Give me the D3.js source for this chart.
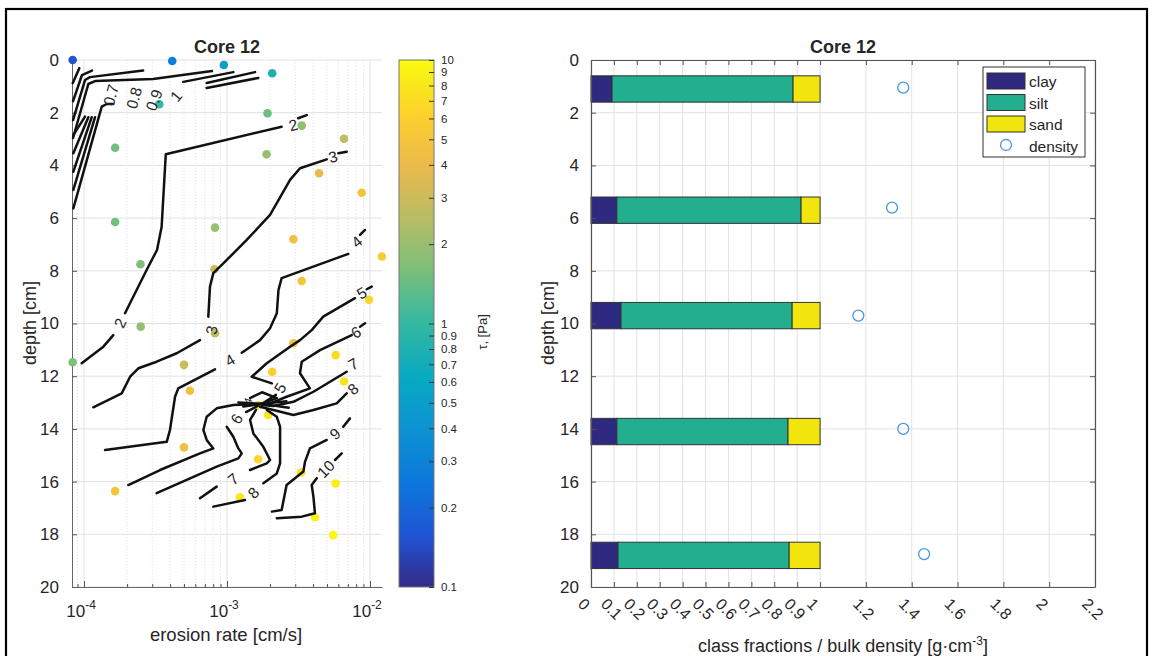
<!DOCTYPE html>
<html>
<head>
<meta charset="utf-8">
<script src="https://cdn.jsdelivr.net/npm/d3@7"></script>
<style>
  body { margin: 0; background: #fff; }
  svg { display: block; }
  text { font-family: "Liberation Sans", Arial, Helvetica, sans-serif; fill: #262626; }
</style>
</head>
<body>
<svg id="chart" width="1154" height="656"></svg>
<script>
// ---------- Left panel: erosion measurements ----------
const pointRate  = [8.33e-5, 4.14e-4, 9.5e-4, 2.07e-3, 3.36e-4, 1.92e-3, 3.33e-3, 6.58e-3, 1.65e-4, 1.89e-3,
                    4.4e-3, 8.75e-3, 1.65e-4, 8.24e-4, 2.91e-3, 1.21e-2, 2.48e-4, 8.17e-4, 3.33e-3, 9.84e-3,
                    2.49e-4, 8.24e-4, 8.33e-5, 5.0e-4, 2.91e-3, 5.75e-3, 2.07e-3, 6.58e-3, 5.5e-4, 1.65e-3,
                    1.94e-3, 5.0e-4, 1.65e-3, 3.3e-3, 5.75e-3, 1.65e-4, 1.23e-3, 4.12e-3, 5.53e-3];
const pointDepth = [0.0, 0.04, 0.19, 0.5, 1.68, 2.02, 2.49, 2.99, 3.33, 3.58,
                    4.3, 5.04, 6.15, 6.36, 6.8, 7.46, 7.75, 7.94, 8.39, 9.1,
                    10.12, 10.37, 11.47, 11.57, 10.75, 11.2, 11.83, 12.2, 12.55, 13.1,
                    13.47, 14.7, 15.15, 15.65, 16.07, 16.36, 16.6, 17.35, 18.03];
const pointTau   = [0.16, 0.28, 0.5, 0.8, 1.0, 1.45, 1.9, 2.7, 1.5, 2.0,
                    4.0, 5.0, 1.5, 2.0, 4.5, 5.5, 1.7, 3.0, 5.0, 6.5,
                    1.9, 2.7, 1.6, 3.0, 4.5, 7.0, 6.0, 7.5, 4.5, 8.0,
                    8.0, 4.5, 6.5, 7.5, 8.5, 5.0, 8.0, 9.0, 9.5];

// Iso-lines of critical shear stress, vertices as [erosion rate, depth]
const contourLines = [
  [[8.33e-5,0.88],[9.27e-5,0.31]],
  [[8.38e-5,1.56],[9.68e-5,0.57],[1.137e-4,0.40]],
  [[8.38e-5,2.28],[1.016e-4,0.76],[1.101e-4,0.65],[2.59e-4,0.40]],
  [[8.38e-5,2.96],[1.072e-4,0.91],[1.194e-4,0.80],[3.04e-4,0.72],[7.85e-4,0.42]],
  [[4.94e-4,0.83],[1.107e-3,0.46]],
  [[7.21e-4,0.87],[1.570e-3,0.46]],
  [[7.21e-4,1.06],[1.656e-3,0.68]],
  [[8.42e-5,2.85],[1.016e-4,2.15]],
  [[8.42e-5,3.54],[1.072e-4,2.17]],
  [[8.42e-5,4.24],[1.132e-4,2.17]],
  [[8.42e-5,4.93],[1.194e-4,2.17]],
  [[8.42e-5,5.63],[1.330e-4,1.77],[1.442e-4,1.67],[1.6e-4,1.67]],
  // 2
  [[3.61e-3,2.09],[3.15e-3,2.21]],
  [[2.41e-3,2.53],[3.73e-4,3.58],[3.49e-4,6.33],[3.24e-4,7.21],[2.74e-4,7.97],[1.935e-4,9.61]],
  [[1.603e-4,10.44],[1.365e-4,10.88],[9.63e-5,11.51]],
  // 3
  [[6.87e-3,3.48],[6.00e-3,3.54]],
  [[4.98e-3,3.77],[3.24e-3,4.11],[2.76e-3,4.55],[2.00e-3,5.88],[1.374e-3,6.83],[9.42e-4,7.72],[8.02e-4,8.09],[7.60e-4,8.60],[7.40e-4,9.74]],
  [[6.47e-4,10.63],[4.45e-4,11.13],[3.22e-4,11.45],[2.40e-4,11.70],[2.10e-4,12.02],[1.835e-4,12.65],[1.161e-4,13.18]],
  // 4
  [[9.23e-3,6.45],[8.51e-3,6.64]],
  [[7.05e-3,7.36],[2.41e-3,8.28],[2.29e-3,8.73],[2.23e-3,9.61],[2.00e-3,10.18],[1.702e-3,10.63],[1.268e-3,11.11]],
  [[8.24e-4,11.74],[4.56e-4,12.46],[4.33e-4,12.78],[3.99e-4,14.04],[3.79e-4,14.49],[1.403e-4,14.80]],
  // 5
  [[1.028e-2,8.60],[9.48e-3,8.70]],
  [[7.85e-3,9.04],[4.71e-3,9.74],[3.91e-3,10.25],[3.24e-3,10.63],[2.76e-3,10.88],[1.897e-3,11.51],[1.489e-3,12.02],[2.06e-3,12.27]],
  [[2.20e-3,12.71],[1.758e-3,13.05]],
  [[1.758e-3,13.05],[1.107e-3,13.09],[8.47e-4,13.22],[7.21e-4,13.54],[6.83e-4,14.04],[7.21e-4,14.42],[8.02e-4,14.74],[6.47e-4,14.93],[3.40e-4,15.56],[2.04e-4,16.13]],
  // 6
  [[9.23e-3,9.99],[8.51e-3,10.12]],
  [[7.45e-3,10.44],[4.47e-3,11.01],[3.33e-3,11.45],[3.24e-3,11.89],[3.80e-3,12.46],[2.61e-3,12.78],[1.897e-3,13.09]],
  [[1.65e-3,13.12],[1.358e-3,13.36]],
  [[9.95e-4,13.92],[1.107e-3,14.30],[1.200e-3,14.74],[1.268e-3,14.93],[1.200e-3,15.12],[8.47e-4,15.43],[3.22e-4,16.44]],
  // 7
  [[6.87e-3,11.83],[4.02e-3,12.59],[2.91e-3,12.97],[2.11e-3,13.13],[1.758e-3,13.09]],
  [[1.595e-3,13.28],[1.449e-3,13.66],[1.528e-3,14.17],[1.795e-3,14.68],[2.00e-3,15.18],[1.897e-3,15.31],[1.449e-3,15.56]],
  [[8.47e-4,16.19],[6.47e-4,16.63]],
  // 8
  [[6.87e-3,12.65],[5.85e-3,13.03],[4.02e-3,13.28],[2.91e-3,13.47],[2.11e-3,13.28],[1.702e-3,13.16]],
  [[1.897e-3,13.28],[2.23e-3,13.54],[2.35e-3,13.92],[2.35e-3,14.55],[2.35e-3,15.31],[2.23e-3,15.69],[1.795e-3,16.06]],
  [[1.336e-3,16.70],[8.02e-4,16.95]],
  // 9
  [[7.24e-3,13.60],[6.50e-3,13.92]],
  [[4.98e-3,14.42],[3.80e-3,14.74],[3.51e-3,15.25],[3.42e-3,15.62],[2.61e-3,16.13],[2.41e-3,17.08],[2.06e-3,17.14]],
  // 10
  [[6.34e-3,14.93],[5.69e-3,15.18]],
  [[4.24e-3,15.87],[3.91e-3,16.13],[4.02e-3,16.57],[4.12e-3,17.20],[3.33e-3,17.33],[2.23e-3,17.39]],
  // knot of lines around 13 cm
  [[1.449e-3,12.83],[1.758e-3,12.61],[2.23e-3,12.83],[1.758e-3,13.05]],
  [[1.20e-3,13.0],[1.758e-3,13.05],[2.6e-3,12.95]],
  [[1.30e-3,13.15],[1.758e-3,13.05],[2.7e-3,13.2]]
];

const contourText  = ["0.7","0.8","0.9","1","2","2","3","3","4","4","4","5","5","6","6","7","7","8","8","9","10"];
const contourRate  = [1.545e-4,2.24e-4,3.09e-4,4.40e-4,2.90e-3,1.79e-4,5.51e-3,7.82e-4,8.07e-3,1.050e-3,1.403e-3,8.75e-3,2.35e-3,7.98e-3,1.169e-3,7.64e-3,1.107e-3,7.60e-3,1.528e-3,5.69e-3,4.92e-3];
const contourDepth = [1.33,1.44,1.52,1.37,2.47,9.98,3.68,10.25,6.90,11.39,12.94,8.85,12.45,10.34,13.62,11.54,15.90,12.49,16.43,14.19,15.52];
const contourAngle = [-75,-75,-70,-50,-15,-65,-15,-80,-40,-30,-70,-30,-60,-30,-60,-30,-40,-40,-45,-40,-45];

const depthTicks = [0,2,4,6,8,10,12,14,16,18,20];
const rateMajorTicks = [1e-4,1e-3,1e-2];
const rateTickExp = ["-4","-3","-2"];
const tauTicks = [0.1,0.2,0.3,0.4,0.5,0.6,0.7,0.8,0.9,1,2,3,4,5,6,7,8,9,10];

// ---------- Right panel: grain size classes and bulk density ----------
const sampleDepth = [1.1, 5.7, 9.7, 14.1, 18.8];
const clayFrac = [0.092, 0.113, 0.131, 0.113, 0.118];
const siltFrac = [0.790, 0.804, 0.747, 0.747, 0.747];
const sandFrac = [0.118, 0.083, 0.122, 0.140, 0.135];
const densityDepth = [1.05, 5.6, 9.7, 14.0, 18.75];
const bulkDensity = [1.363, 1.314, 1.167, 1.363, 1.454];
const fracTicks = [0,0.1,0.2,0.3,0.4,0.5,0.6,0.7,0.8,0.9,1,1.2,1.4,1.6,1.8,2,2.2];
const fracTickLabels = ["0","0.1","0.2","0.3","0.4","0.5","0.6","0.7","0.8","0.9","1","1.2","1.4","1.6","1.8","2","2.2"];
const classNames = ["clay","silt","sand"];

// ---------- drawing ----------
const svg = d3.select("#chart");
const SLAB = 1.0;        // sample slab thickness, cm
const GRID = "#e2e2e2";
const FONT = "Liberation Sans, Arial, sans-serif";

// parula colormap
const parulaIdx = [0,6,12,19,25,32,38,44,50,56,63];
const parulaCol = ["#352a87","#2053d4","#0d75dc","#0c93d2","#07a9c2","#38b99e","#7cbf7b","#b7bd64","#e9b94e","#fcce2e","#f9fb0e"];
const parula = d3.scaleLinear().domain(parulaIdx.map(i => i / 63)).range(parulaCol).interpolate(d3.interpolateRgb).clamp(true);
const tauT = d3.scaleLog().domain([0.1, 10]).range([0, 1]).clamp(true);
const tauColor = v => parula(tauT(v));

// outer frame
svg.append("rect").attr("x", 6).attr("y", 9).attr("width", 1141).attr("height", 670)
  .attr("fill", "none").attr("stroke", "#000").attr("stroke-width", 2.2);

// ===== left panel =====
const xL = d3.scaleLog().domain([8.24e-5, 1.213e-2]).range([72, 382]);
const yD = d3.scaleLinear().domain([0, 20]).range([60, 587]);

const minorRates = [];
for (let k = -5; k <= -2; k++) for (let m = 2; m <= 9; m++) {
  const v = m * Math.pow(10, k);
  if (v > xL.domain()[0] && v < xL.domain()[1]) minorRates.push(v);
}
const gl = svg.append("g");
gl.selectAll("line.minor").data(minorRates).join("line")
  .attr("x1", d => xL(d)).attr("x2", d => xL(d)).attr("y1", yD(0)).attr("y2", yD(20))
  .attr("stroke", "#d6d6d6").attr("stroke-dasharray", "1,2").attr("stroke-width", 0.8);
gl.selectAll("line.vmaj").data(rateMajorTicks).join("line")
  .attr("x1", d => xL(d)).attr("x2", d => xL(d)).attr("y1", yD(0)).attr("y2", yD(20))
  .attr("stroke", GRID);
gl.selectAll("line.hmaj").data(depthTicks).join("line")
  .attr("x1", xL.range()[0]).attr("x2", xL.range()[1]).attr("y1", d => yD(d)).attr("y2", d => yD(d))
  .attr("stroke", GRID);

// axes
const axL = svg.append("g").attr("transform", `translate(${xL.range()[0]},0)`)
  .call(d3.axisLeft(yD).tickValues(depthTicks).tickSizeInner(-5).tickSizeOuter(0).tickPadding(13));
const axB = svg.append("g").attr("transform", `translate(0,${yD(20)})`)
  .call(d3.axisBottom(xL).tickValues(rateMajorTicks).tickSizeInner(-6).tickSizeOuter(0).tickFormat(""));
svg.append("g").attr("transform", `translate(0,${yD(20)})`)
  .call(d3.axisBottom(xL).tickValues(minorRates).tickSizeInner(-3).tickSizeOuter(0).tickFormat(""))
  .select(".domain").remove();
[axL, axB].forEach(a => {
  a.select(".domain").attr("stroke", "#666");
  a.selectAll("text").attr("font-size", 17).attr("fill", "#262626").style("font-family", FONT);
});
svg.selectAll("g.tick line").attr("stroke", "#555");

// decade labels
const dl = svg.append("g").selectAll("text").data(rateMajorTicks).join("text")
  .attr("x", d => xL(d) - 3).attr("y", 617).attr("text-anchor", "middle").attr("font-size", 17);
dl.append("tspan").text("10");
dl.append("tspan").attr("dy", -8).attr("font-size", 12).text((d, i) => rateTickExp[i]);

// points
svg.append("g").selectAll("circle").data(pointRate).join("circle")
  .attr("cx", d => xL(d)).attr("cy", (d, i) => yD(pointDepth[i])).attr("r", 4.3)
  .attr("fill", (d, i) => tauColor(pointTau[i]));

// contour lines
const lineGen = d3.line().x(d => xL(d[0])).y(d => yD(d[1]));
svg.append("g").selectAll("path").data(contourLines).join("path")
  .attr("d", lineGen).attr("fill", "none").attr("stroke", "#111").attr("stroke-width", 2.5)
  .attr("stroke-linejoin", "round").attr("stroke-linecap", "round");

svg.append("g").selectAll("text").data(contourText).join("text")
  .attr("transform", (d, i) => `translate(${xL(contourRate[i])},${yD(contourDepth[i])}) rotate(${contourAngle[i]})`)
  .attr("text-anchor", "middle").attr("dy", "0.35em")
  .attr("font-size", (d, i) => i === 10 ? 11 : 15.5).attr("fill", "#111").text(d => d);

// titles and labels
svg.append("text").attr("x", 227).attr("y", 53).attr("text-anchor", "middle")
  .attr("font-size", 18).attr("font-weight", "bold").attr("fill", "#111").text("Core 12");
svg.append("text").attr("transform", "translate(36,323) rotate(-90)").attr("text-anchor", "middle")
  .attr("font-size", 18).text("depth [cm]");
svg.append("text").attr("x", 226).attr("y", 641).attr("text-anchor", "middle")
  .attr("font-size", 18.5).text("erosion rate [cm/s]");

// ===== colour bar =====
const cbX = 399, cbW = 35;
const cy = d3.scaleLog().domain([0.1, 10]).range([587, 60]);
const grad = svg.append("defs").append("linearGradient").attr("id", "parulaGrad")
  .attr("x1", 0).attr("y1", 1).attr("x2", 0).attr("y2", 0);
grad.selectAll("stop").data(parulaIdx).join("stop")
  .attr("offset", d => d / 63).attr("stop-color", (d, i) => parulaCol[i]);
svg.append("rect").attr("x", cbX).attr("y", cy(10)).attr("width", cbW).attr("height", cy(0.1) - cy(10))
  .attr("fill", "url(#parulaGrad)").attr("stroke", "#777").attr("stroke-width", 1);
const cbAxis = svg.append("g").attr("transform", `translate(${cbX + cbW},0)`)
  .call(d3.axisRight(cy).tickValues(tauTicks).tickSizeInner(-5).tickSizeOuter(0).tickPadding(7)
    .tickFormat(d => d < 1 ? d3.format(".1f")(d) : d3.format("d")(d)));
cbAxis.select(".domain").remove();
cbAxis.selectAll(".tick line").attr("stroke", "#333");
cbAxis.selectAll("text").attr("font-size", 11.5).attr("fill", "#262626").style("font-family", FONT);
svg.append("text").attr("transform", "translate(487,332) rotate(-90)").attr("text-anchor", "middle")
  .attr("font-size", 13).text("τ, [Pa]");

// ===== right panel =====
const xR = d3.scaleLinear().domain([0, 2.2]).range([591, 1095]);
const gr = svg.append("g");
gr.selectAll("line.v").data(fracTicks).join("line")
  .attr("x1", d => xR(d)).attr("x2", d => xR(d)).attr("y1", yD(0)).attr("y2", yD(20)).attr("stroke", GRID);
gr.selectAll("line.h").data(depthTicks).join("line")
  .attr("x1", xR(0)).attr("x2", xR(2.2)).attr("y1", d => yD(d)).attr("y2", d => yD(d)).attr("stroke", GRID);

const classCol = ["#2e2a80", "#22af8f", "#f2e50e"];
const fracs = [clayFrac, siltFrac, sandFrac];
const stacks = [];
sampleDepth.forEach((dep, i) => {
  let start = 0;
  fracs.forEach((f, k) => { stacks.push({ dep, k, x0: start, x1: start + f[i] }); start += f[i]; });
});
svg.append("g").selectAll("rect").data(stacks).join("rect")
  .attr("x", d => xR(d.x0)).attr("width", d => xR(d.x1) - xR(d.x0))
  .attr("y", d => yD(d.dep - SLAB / 2)).attr("height", d => yD(d.dep + SLAB / 2) - yD(d.dep - SLAB / 2))
  .attr("fill", d => classCol[d.k]).attr("stroke", "#333").attr("stroke-width", 1);

svg.append("g").selectAll("circle").data(bulkDensity).join("circle")
  .attr("cx", d => xR(d)).attr("cy", (d, i) => yD(densityDepth[i])).attr("r", 5.5)
  .attr("fill", "none").attr("stroke", "#4b97e0").attr("stroke-width", 1.3);

const axRL = svg.append("g").attr("transform", `translate(${xR(0)},0)`)
  .call(d3.axisLeft(yD).tickValues(depthTicks).tickSizeInner(-5).tickSizeOuter(0).tickPadding(12));
const axRR = svg.append("g").attr("transform", `translate(${xR(2.2)},0)`)
  .call(d3.axisRight(yD).tickValues(depthTicks).tickSizeInner(-5).tickSizeOuter(0).tickFormat(""));
const axRB = svg.append("g").attr("transform", `translate(0,${yD(20)})`)
  .call(d3.axisBottom(xR).tickValues(fracTicks).tickSizeInner(-5).tickSizeOuter(0).tickFormat(""));
const axRT = svg.append("g").attr("transform", `translate(0,${yD(0)})`)
  .call(d3.axisTop(xR).tickValues(fracTicks).tickSizeInner(-5).tickSizeOuter(0).tickFormat(""));
[axRL, axRR, axRB, axRT].forEach(a => {
  a.select(".domain").attr("stroke", "#555").attr("stroke-width", 1.2);
  a.selectAll(".tick line").attr("stroke", "#555");
  a.selectAll("text").attr("font-size", 17).attr("fill", "#262626").style("font-family", FONT);
});
svg.append("g").selectAll("text").data(fracTicks).join("text")
  .attr("transform", d => `translate(${xR(d) - 14},605) rotate(45)`)
  .attr("font-size", 16).text((d, i) => fracTickLabels[i]);

svg.append("text").attr("x", 843).attr("y", 53).attr("text-anchor", "middle")
  .attr("font-size", 18).attr("font-weight", "bold").attr("fill", "#111").text("Core 12");
svg.append("text").attr("transform", "translate(554,323) rotate(-90)").attr("text-anchor", "middle")
  .attr("font-size", 18).text("depth [cm]");
const xl = svg.append("text").attr("x", 843).attr("y", 652).attr("text-anchor", "middle").attr("font-size", 18);
xl.append("tspan").text("class fractions / bulk density [g·cm");
xl.append("tspan").attr("dy", -7).attr("font-size", 12).text("-3");
xl.append("tspan").attr("dy", 7).text("]");

// legend
const lg = svg.append("g").attr("transform", "translate(983,67)");
lg.append("rect").attr("width", 102).attr("height", 90).attr("fill", "#fff").attr("stroke", "#333").attr("stroke-width", 1);
lg.selectAll("rect.sw").data(classNames).join("rect")
  .attr("x", 4).attr("y", (d, i) => 6 + i * 21.5).attr("width", 38).attr("height", 16)
  .attr("fill", (d, i) => classCol[i]).attr("stroke", "#333");
lg.append("circle").attr("cx", 23).attr("cy", 78).attr("r", 5.5)
  .attr("fill", "none").attr("stroke", "#4b97e0").attr("stroke-width", 1.3);
lg.selectAll("text").data(classNames.concat(["density"])).join("text")
  .attr("x", 46).attr("y", (d, i) => 20 + i * 21.5).attr("font-size", 15.5).text(d => d);
</script>
</body>
</html>
